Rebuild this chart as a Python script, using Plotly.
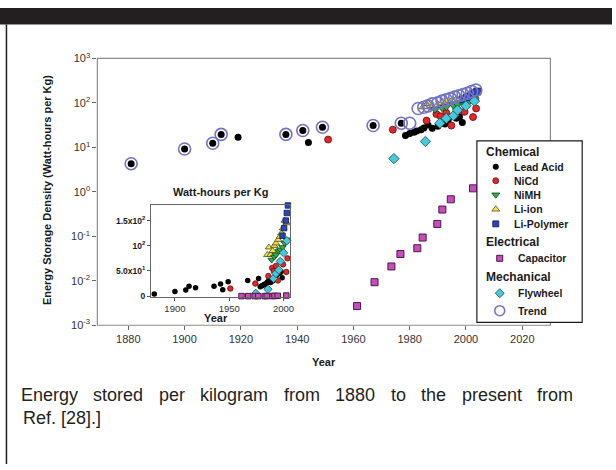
import plotly.graph_objects as go

W, H = 616, 470


def fx(x):
    return x / W


def fy(y):
    return 1 - y / H


# ---------------- data ----------------
lead_year = [1881, 1900, 1910, 1913, 1919, 1936, 1942, 1944, 1949, 1967, 1977,
             1978.5, 1980, 1981.5, 1982.5, 1984, 1985, 1986.5, 1988, 1990,
             1992.5, 1993.7, 1996.6, 1997.7, 1998.7]
lead_val = [4.3, 9.2, 12.4, 19.6, 16.8, 19.6, 24, 12.9, 28.4, 31, 35,
            18.6, 20.6, 22, 23.5, 25, 27.4, 32, 27, 30,
            33.7, 41.7, 45.5, 49, 36.4]

nicd_year = [1951, 1974, 1986, 1989.5, 1991, 1993, 1994.8, 1997.2, 1999.5, 2002.5, 2003.6]
nicd_val = [15, 25, 40, 56, 50, 60, 31, 69, 63, 48, 75]

nimh_year = [1989, 1991.5, 1993, 1995.5, 1997, 1999, 2001, 2003]
nimh_val = [72, 78, 82, 89, 92, 97, 105, 112]

liion_year = [1985, 1986.5, 1988, 1990, 1991.5, 1993, 1995, 1996.5, 1998, 1999.5, 2001, 2003]
liion_val = [82, 97, 82, 90, 100, 105, 112, 118, 125, 135, 150, 145]

lipoly_year = [1999, 2000.5, 2002, 2003, 2004]
lipoly_val = [120, 135, 150, 165, 180]

cap_year = [1961.3, 1967.5, 1973.5, 1976.7, 1982.7, 1984.6, 1989.8, 1991.6, 1994.6, 2002.5]
cap_val = [0.0027, 0.0093, 0.021, 0.040, 0.054, 0.094, 0.19, 0.40, 0.68, 1.2]

fly_year = [1974.4, 1985.6, 1990.7, 1993, 1995.6, 1997, 2000, 2003]
fly_val = [5.6, 13.6, 35, 45, 52, 69, 86, 110]

trend_year = [1881, 1900, 1910, 1913, 1936, 1942, 1949, 1967, 1977, 1980,
              1983, 1985, 1986.5, 1988, 1990, 1991.5, 1993, 1994.5, 1996,
              1997.5, 1999, 2000.5, 2002, 2003.5]
trend_val = [4.3, 9.2, 12.4, 19.6, 19.6, 24, 28.4, 31, 35, 35,
             75, 80, 86, 95, 100, 110, 118, 125, 135,
             145, 155, 165, 180, 195]

x_ticks = [1880, 1900, 1920, 1940, 1960, 1980, 2000, 2020]
y_ticks = [1e-3, 1e-2, 1e-1, 1, 10, 100, 1000]
y_ticktext = ["10<sup>-3</sup>", "10<sup>-2</sup>", "10<sup>-1</sup>", "10<sup>0</sup>",
              "10<sup>1</sup>", "10<sup>2</sup>", "10<sup>3</sup>"]
inset_x_ticks = [1900, 1950, 2000]
inset_y_ticks = [0, 50, 100, 150]
inset_y_ticktext = ["0", "5.0x10<sup>1</sup>", "10<sup>2</sup>", "1.5x10<sup>2</sup>"]

# ---------------- styles ----------------
styles = {
    "lead": dict(symbol="circle", size=7, color="#000000", line=dict(color="#000000", width=0)),
    "nicd": dict(symbol="circle", size=7, color="#e3262a", line=dict(color="#5a1414", width=0.8)),
    "nimh": dict(symbol="triangle-down", size=8, color="#2bb443", line=dict(color="#143d14", width=0.8)),
    "liion": dict(symbol="triangle-up", size=8, color="#f2e64c", line=dict(color="#4d4a14", width=0.8)),
    "lipoly": dict(symbol="square", size=7, color="#2b46b8", line=dict(color="#111a52", width=0.8)),
    "cap": dict(symbol="square", size=7, color="#c84cbc", line=dict(color="#4a1a48", width=1)),
    "fly": dict(symbol="diamond", size=8, color="#46cadb", line=dict(color="#1a4a52", width=0.8)),
    "trend": dict(symbol="circle-open", size=12, color="#7474c4", line=dict(width=1.6)),
}

series = [
    ("lead", lead_year, lead_val),
    ("nicd", nicd_year, nicd_val),
    ("liion", liion_year, liion_val),
    ("nimh", nimh_year, nimh_val),
    ("lipoly", lipoly_year, lipoly_val),
    ("fly", fly_year, fly_val),
    ("cap", cap_year, cap_val),
    ("trend", trend_year, trend_val),
]

fig = go.Figure()

# main log-scale panel
for key, xs, ys in series:
    fig.add_trace(go.Scatter(x=xs, y=ys, mode="markers", marker=styles[key],
                             xaxis="x", yaxis="y", showlegend=False, hoverinfo="skip"))

# linear inset (same data, trend omitted)
for key, xs, ys in series:
    if key == "trend":
        continue
    m = dict(styles[key])
    m["size"] = m["size"] - 1.5
    fig.add_trace(go.Scatter(x=xs, y=ys, mode="markers", marker=m,
                             xaxis="x2", yaxis="y2", showlegend=False, hoverinfo="skip",
                             cliponaxis=False))

# legend panel
legend_rows = [("Chemical", None), ("Lead Acid", "lead"), ("NiCd", "nicd"), ("NiMH", "nimh"),
               ("Li-ion", "liion"), ("Li-Polymer", "lipoly"), ("Electrical", None),
               ("Capacitor", "cap"), ("Mechanical", None), ("Flywheel", "fly"), ("Trend", "trend")]
row_y = [11, 26.5, 41, 55.5, 70.5, 85.5, 104, 121, 140, 157, 175]

annotations = []
group_idx = 0
for (text, key), ry in zip(legend_rows, row_y):
    if key is None:
        group_idx += 1
        annotations.append(dict(x=7, y=ry, xref="x3", yref="y3", text=text, showarrow=False,
                                xanchor="left", yanchor="middle",
                                font=dict(family="Liberation Sans, Arial, sans-serif", size=12,
                                          color="#1a1a1a", weight="bold")))
        continue
    sx = 19 if group_idx == 1 else 23
    m = dict(styles[key])
    m["size"] = 10 if key == "trend" else m["size"] - 1
    fig.add_trace(go.Scatter(x=[sx], y=[ry], mode="markers", marker=m, xaxis="x3", yaxis="y3",
                             showlegend=False, hoverinfo="skip", cliponaxis=False))
    annotations.append(dict(x=sx + 16, y=ry, xref="x3", yref="y3", text=text, showarrow=False,
                            xanchor="left", yanchor="middle",
                            font=dict(family="Liberation Sans, Arial, sans-serif", size=10.5,
                                      color="#1a1a1a", weight="bold")))

axis_font = dict(family="Liberation Sans, Arial, sans-serif", size=11, color="#333333")
bold = dict(family="Liberation Sans, Arial, sans-serif", size=11, color="#1a1a1a", weight="bold")


def label(x, y, text, font, angle=0):
    return dict(x=fx(x), y=fy(y), xref="paper", yref="paper", showarrow=False, text=text,
                xanchor="center", yanchor="middle", textangle=angle, font=font)


annotations += [
    label(48, 188, "Energy Storage Density (Watt-hours per Kg)", bold, -90),
    label(326, 365, "Year", bold),
    label(222, 190, "Watt-hours per Kg", bold),
    label(217, 320, "Year", bold),
]

# caption, first line justified word by word
arial = {"E": 667, "n": 556, "e": 556, "r": 333, "g": 556, "y": 500, "s": 500, "t": 278,
         "o": 556, "d": 556, "p": 556, "k": 500, "i": 222, "l": 222, "a": 556, "m": 833,
         "f": 278, "h": 556, "1": 556, "8": 556, "0": 556}
caption_line1 = "Energy stored per kilogram from 1880 to the present from"
caption_line2 = "Ref. [28].]"
cap_size = 18
cap_font = dict(family="Liberation Sans, Arial, sans-serif", size=cap_size, color="#231f20")
words = caption_line1.split()
widths = [sum(arial[c] for c in w) * cap_size / 1000 for w in words]
left, right = 21, 577
gap = (right - left - sum(widths)) / (len(words) - 1)
cx = left
for w, wd in zip(words, widths):
    annotations.append(label(cx + wd / 2, 399, w, cap_font))
    cx += wd + gap
annotations.append(dict(x=fx(left), y=fy(423), xref="paper", yref="paper", showarrow=False,
                        text=caption_line2, xanchor="left", yanchor="middle", font=cap_font))

band = 17
shapes = [
    # dark header band
    dict(type="rect", xref="paper", yref="paper", x0=0, x1=1, y0=fy(band), y1=1,
         fillcolor="#231f20", line=dict(width=0), layer="below"),
    # panel left rule
    dict(type="line", xref="paper", yref="paper", x0=fx(6.5), x1=fx(6.5), y0=0, y1=fy(band),
         line=dict(color="#231f20", width=1.5), layer="below"),
    # main plot frame
    dict(type="rect", xref="paper", yref="paper", x0=fx(98), x1=fx(554), y0=fy(327), y1=fy(52),
         line=dict(color="#8c8c8c", width=1.2), fillcolor="rgba(0,0,0,0)", layer="below"),
    # legend box
    dict(type="rect", xref="paper", yref="paper", x0=fx(480), x1=fx(586), y0=fy(324), y1=fy(137),
         line=dict(color="#1a1a1a", width=1.2), fillcolor="#ffffff", layer="below"),
]

fig.update_layout(
    width=W, height=H, autosize=False,
    margin=dict(l=0, r=0, t=0, b=0),
    paper_bgcolor="#ffffff", plot_bgcolor="rgba(0,0,0,0)",
    showlegend=False,
    xaxis=dict(domain=[fx(98), fx(554)], range=[1869, 2030], anchor="y",
               tickvals=x_ticks, ticks="outside", ticklen=4, tickcolor="#666666",
               tickfont=axis_font, showgrid=False, zeroline=False, showline=False),
    yaxis=dict(domain=[fy(327), fy(52)], type="log", range=[-3, 3], anchor="x",
               tickvals=y_ticks, ticktext=y_ticktext, ticks="outside", ticklen=4,
               tickcolor="#666666", tickfont=axis_font, showgrid=False, zeroline=False,
               showline=False),
    xaxis2=dict(domain=[fx(152), fx(292)], range=[1878, 2006], anchor="y2",
                tickvals=inset_x_ticks, ticks="outside", ticklen=3, tickcolor="#555555",
                tickfont=dict(family="Liberation Sans, Arial, sans-serif", size=9.5, color="#333333"),
                showgrid=False, zeroline=False, showline=True, mirror=True,
                linecolor="#666666", linewidth=1),
    yaxis2=dict(domain=[fy(297.5), fy(203)], range=[-1, 181], anchor="x2",
                tickvals=inset_y_ticks, ticktext=inset_y_ticktext, ticks="outside", ticklen=3,
                tickcolor="#555555",
                tickfont=dict(family="Liberation Sans, Arial, sans-serif", size=8.5,
                              color="#1a1a1a", weight="bold"),
                showgrid=False, zeroline=False, showline=True, mirror=True,
                linecolor="#666666", linewidth=1),
    xaxis3=dict(domain=[fx(480), fx(586)], range=[0, 106], anchor="y3", visible=False),
    yaxis3=dict(domain=[fy(324), fy(137)], range=[187, 0], anchor="x3", visible=False),
    shapes=shapes,
    annotations=annotations,
)

fig.write_html("out.html")
